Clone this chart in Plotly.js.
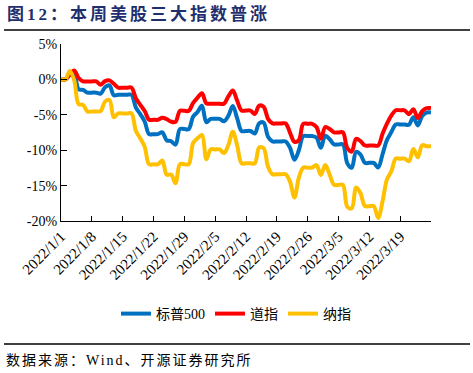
<!DOCTYPE html>
<html>
<head>
<meta charset="utf-8">
<script src="https://cdn.plot.ly/plotly-3.0.1.min.js"></script>
<style>html,body{margin:0;padding:0;background:#fff;}#chart{width:473px;height:373px;}</style>
</head>
<body>
<div id="chart"></div>
<script>
const dates = [
'2022-01-01','2022-01-02','2022-01-03','2022-01-04','2022-01-05','2022-01-06','2022-01-07','2022-01-08','2022-01-09','2022-01-10',
'2022-01-11','2022-01-12','2022-01-13','2022-01-14','2022-01-15','2022-01-16','2022-01-17','2022-01-18','2022-01-19','2022-01-20',
'2022-01-21','2022-01-22','2022-01-23','2022-01-24','2022-01-25','2022-01-26','2022-01-27','2022-01-28','2022-01-29','2022-01-30',
'2022-01-31','2022-02-01','2022-02-02','2022-02-03','2022-02-04','2022-02-05','2022-02-06','2022-02-07','2022-02-08','2022-02-09',
'2022-02-10','2022-02-11','2022-02-12','2022-02-13','2022-02-14','2022-02-15','2022-02-16','2022-02-17','2022-02-18','2022-02-19',
'2022-02-20','2022-02-21','2022-02-22','2022-02-23','2022-02-24','2022-02-25','2022-02-26','2022-02-27','2022-02-28','2022-03-01',
'2022-03-02','2022-03-03','2022-03-04','2022-03-05','2022-03-06','2022-03-07','2022-03-08','2022-03-09','2022-03-10','2022-03-11',
'2022-03-12','2022-03-13','2022-03-14','2022-03-15','2022-03-16','2022-03-17','2022-03-18','2022-03-19','2022-03-20','2022-03-21',
'2022-03-22','2022-03-23','2022-03-24','2022-03-25','2022-03-26'
];
const sp500 = [
0,0,0.64,0.57,-1.38,-1.47,-1.87,-1.87,-1.87,-2.01,
-1.11,-0.84,-2.25,-2.17,-2.17,-2.17,-2.17,-3.97,-4.90,-5.95,
-7.73,-7.73,-7.73,-7.47,-8.60,-8.73,-9.22,-7.01,-7.01,-7.01,
-5.26,-4.61,-3.71,-6.06,-5.57,-5.57,-5.57,-5.92,-5.13,-3.76,
-5.50,-7.29,-7.29,-7.29,-7.65,-6.19,-6.11,-8.10,-8.76,-8.76,
-8.76,-8.76,-9.68,-11.34,-10.02,-8.00,-8.00,-8.00,-8.23,-9.65,
-7.96,-8.45,-9.18,-9.18,-9.18,-11.86,-12.49,-10.24,-10.63,-11.79,
-11.79,-11.79,-12.44,-10.57,-8.57,-7.44,-6.36,-6.36,-6.36,-6.40,
-5.34,-6.50,-5.16,-4.68,-4.68
];
const dow = [
0,0,0.68,1.27,0.19,-0.28,-0.29,-0.29,-0.29,-0.74,
-0.24,-0.13,-0.62,-1.17,-1.17,-1.17,-1.17,-2.67,-3.60,-4.47,
-5.70,-5.70,-5.70,-5.43,-5.62,-5.97,-5.99,-4.44,-4.44,-4.44,
-3.32,-2.57,-1.95,-3.38,-3.44,-3.44,-3.44,-3.43,-2.41,-1.57,
-3.02,-4.40,-4.40,-4.40,-4.88,-3.71,-3.86,-5.57,-6.22,-6.22,
-6.22,-6.22,-7.54,-8.82,-8.57,-6.27,-6.27,-6.27,-6.73,-8.37,
-6.73,-7.00,-7.49,-7.49,-7.49,-9.69,-10.20,-8.40,-8.71,-9.34,
-9.34,-9.34,-9.34,-7.69,-6.26,-5.11,-4.36,-4.36,-4.36,-4.91,
-4.21,-5.45,-4.49,-4.06,-4.06
];
const nasdaq = [
0,0,1.20,-0.14,-3.48,-3.61,-4.53,-4.53,-4.53,-4.49,
-3.14,-2.92,-5.36,-4.80,-4.80,-4.80,-4.80,-7.27,-8.34,-9.53,
-11.99,-11.99,-11.99,-11.44,-13.46,-13.44,-14.65,-11.98,-11.98,-11.98,
-8.98,-8.30,-7.85,-11.29,-9.89,-9.89,-9.89,-10.41,-9.27,-7.38,
-9.33,-11.85,-11.85,-11.85,-11.85,-9.62,-9.72,-12.33,-13.40,-13.40,
-13.40,-13.40,-14.47,-16.67,-13.88,-12.47,-12.47,-12.47,-12.10,-13.50,
-12.10,-13.47,-14.90,-14.90,-14.90,-17.99,-18.21,-15.27,-16.07,-17.90,
-17.90,-17.90,-19.58,-17.23,-14.12,-12.98,-11.19,-11.19,-11.19,-11.55,
-9.82,-11.01,-9.29,-9.43,-9.43
];
const seriesNames = ['标普500','道指','纳指'];
const xTickVals = ['2022-01-01','2022-01-08','2022-01-15','2022-01-22','2022-01-29','2022-02-05','2022-02-12','2022-02-19','2022-02-26','2022-03-05','2022-03-12','2022-03-19','2022-03-26'];
const xTickText = ['2022/1/1','2022/1/8','2022/1/15','2022/1/22','2022/1/29','2022/2/5','2022/2/12','2022/2/19','2022/2/26','2022/3/5','2022/3/12','2022/3/19',''];
const yTickVals = [5,0,-5,-10,-15,-20];
const yTickText = ['5%','0%','-5%','-10%','-15%','-20%'];
const titleText = '图12：本周美股三大指数普涨';
const sourceText = '数据来源：Wind、开源证券研究所';

const W = 473, H = 373;
const L = 61, R = 431, T = 44, B = 221;
const px = x => (x - L) / (R - L);
const py = y => (B - y) / (B - T);

const serif = 'Liberation Serif, Times New Roman, Noto Sans CJK SC, serif';
const colors = ['#0070C0','#FF0000','#FFC000'];
const ys = [sp500, dow, nasdaq];

const traces = ys.map((v, i) => ({
  x: dates, y: v, type: 'scatter', mode: 'lines', name: seriesNames[i],
  line: {color: colors[i], width: 4, shape: 'spline', smoothing: 1},
  hoverinfo: 'skip'
}));

const layout = {
  width: W, height: H,
  margin: {l: L, r: W - R, t: T, b: H - B, pad: 0},
  paper_bgcolor: '#fff', plot_bgcolor: '#fff',
  showlegend: true,
  legend: {orientation: 'h', x: px(236), y: py(314), xanchor: 'center', yanchor: 'middle',
    font: {family: serif, size: 14, color: '#000'}, itemwidth: 30, tracegroupgap: 0, bgcolor: 'rgba(0,0,0,0)'},
  xaxis: {
    type: 'date', range: ['2022-01-01','2022-03-26'],
    tickmode: 'array', tickvals: xTickVals, ticktext: xTickText,
    tickangle: -45, ticks: 'inside', ticklen: 5, tickcolor: '#000', tickwidth: 1,
    showline: true, linecolor: '#000', linewidth: 1, showgrid: false, zeroline: false,
    tickfont: {family: serif, size: 15, color: '#000'}, fixedrange: true
  },
  yaxis: {
    range: [-20, 5], tickmode: 'array', tickvals: yTickVals, ticktext: yTickText,
    ticks: 'inside', ticklen: 6, tickcolor: '#000', tickwidth: 1,
    showline: true, linecolor: '#000', linewidth: 1, showgrid: false, zeroline: false,
    tickfont: {family: serif, size: 14, color: '#000'}, fixedrange: true
  },
  shapes: [
    {type: 'line', xref: 'paper', yref: 'paper', x0: px(4), x1: px(470), y0: py(30), y1: py(30), line: {color: '#000', width: 1.5}},
    {type: 'line', xref: 'paper', yref: 'paper', x0: px(4), x1: px(470), y0: py(344), y1: py(344), line: {color: '#000', width: 1.5}}
  ],
  annotations: [
    {text: '<b>' + titleText + '</b>', xref: 'paper', yref: 'paper', x: px(5), y: py(14), xanchor: 'left', yanchor: 'middle',
      showarrow: false, font: {family: serif, size: 17, color: '#1F2F6E'}},
    {text: sourceText, xref: 'paper', yref: 'paper', x: px(4), y: py(360), xanchor: 'left', yanchor: 'middle',
      showarrow: false, font: {family: serif, size: 14, color: '#000'}}
  ]
};

Plotly.newPlot('chart', traces, layout, {displayModeBar: false, staticPlot: true}).then(gd => {
  const texts = gd.querySelectorAll('.annotation-text');
  const spacing = ['3px', '2px'];
  texts.forEach((el, i) => {
    const bb = el.getBBox();
    el.setAttribute('text-anchor', 'start');
    el.setAttribute('x', bb.x);
    el.style.letterSpacing = spacing[i] || '0px';
  });
});
</script>
</body>
</html>
